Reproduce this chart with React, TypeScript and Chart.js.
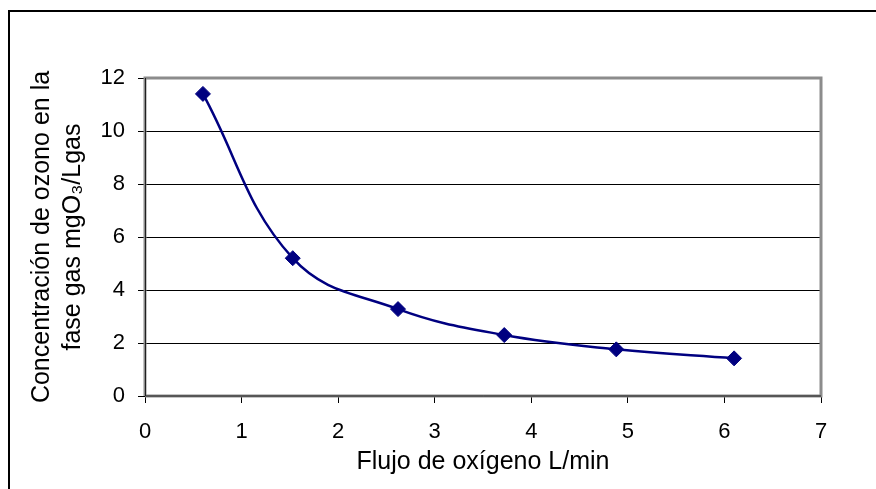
import React, { useEffect, useRef } from "react";
import { Chart, registerables } from "chart.js";

Chart.register(...registerables);

const flowValues = [0.6, 1.53, 2.62, 3.72, 4.88, 6.1];
const ozoneValues = [11.4, 5.2, 3.28, 2.3, 1.76, 1.42];
const xTickValues = [0, 1, 2, 3, 4, 5, 6, 7];
const yTickValues = [0, 2, 4, 6, 8, 10, 12];
const xTitle = "Flujo de oxígeno L/min";
const yTitle = ["Concentración de ozono en la", "fase gas mgO₃/Lgas"];

const FONT = "'Liberation Sans', Arial, sans-serif";

const framePlugin = {
  id: "frame",
  beforeDatasetsDraw(chart: any) {
    const { ctx, chartArea } = chart;
    const { left, right, top, bottom } = chartArea;
    ctx.save();
    ctx.strokeStyle = "#8c8c8c";
    ctx.lineWidth = 3;
    ctx.beginPath();
    ctx.moveTo(left, bottom);
    ctx.lineTo(left, top);
    ctx.lineTo(right, top);
    ctx.lineTo(right, bottom);
    ctx.lineTo(left, bottom);
    ctx.stroke();
    ctx.strokeStyle = "#202020";
    ctx.lineWidth = 1;
    ctx.beginPath();
    ctx.moveTo(Math.round(left) + 0.5, top);
    ctx.lineTo(Math.round(left) + 0.5, bottom);
    ctx.lineTo(right, bottom);
    ctx.stroke();
    ctx.restore();
  },
  afterDraw(chart: any) {
    const { ctx, width, height } = chart;
    ctx.save();
    ctx.strokeStyle = "#000";
    ctx.lineWidth = 2;
    ctx.beginPath();
    ctx.moveTo(9, height + 5);
    ctx.lineTo(9, 11);
    ctx.lineTo(width + 5, 11);
    ctx.stroke();
    ctx.restore();
  },
};

export default function App() {
  const ref = useRef<HTMLCanvasElement | null>(null);
  useEffect(() => {
    if (!ref.current) return;
    const chart = new Chart(ref.current, {
      type: "scatter",
      data: {
        datasets: [
          {
            data: flowValues.map((x, i) => ({ x, y: ozoneValues[i] })),
            showLine: true,
            borderColor: "#000080",
            backgroundColor: "#000080",
            borderWidth: 2.5,
            tension: 0.4,
            pointStyle: "rectRot",
            pointRadius: 7.5,
            pointBorderWidth: 1,
            pointBorderColor: "#000080",
            pointBackgroundColor: "#000080",
          },
        ],
      },
      options: {
        responsive: false,
        animation: false,
        layout: { padding: { left: 0, top: 78, right: 55, bottom: 0 } },
        plugins: { legend: { display: false }, tooltip: { enabled: false } },
        scales: {
          x: {
            type: "linear",
            min: 0,
            max: 7,
            afterBuildTicks: (s: any) => {
              s.ticks = xTickValues.map((v) => ({ value: v }));
            },
            afterFit: (s: any) => {
              s.height = 93;
            },
            grid: {
              drawOnChartArea: false,
              drawTicks: true,
              tickLength: 7,
              color: "#000",
            },
            border: { display: false },
            ticks: {
              color: "#000",
              font: { family: FONT, size: 22 },
              padding: 16,
              maxRotation: 0,
            },
            title: {
              display: true,
              text: xTitle,
              color: "#000",
              font: { family: FONT, size: 25, lineHeight: "31px" },
              padding: { top: 0, bottom: 11.5 },
            },
          },
          y: {
            type: "linear",
            min: 0,
            max: 12,
            afterBuildTicks: (s: any) => {
              s.ticks = yTickValues.map((v) => ({ value: v }));
            },
            afterFit: (s: any) => {
              s.width = 145;
            },
            grid: { color: "#000", lineWidth: 1, tickLength: 7 },
            border: { display: false },
            ticks: {
              color: "#000",
              font: { family: FONT, size: 22 },
              padding: 13,
            },
            title: {
              display: true,
              text: yTitle,
              color: "#000",
              font: { family: FONT, size: 25, lineHeight: "31px" },
              padding: { top: 26.5, bottom: 0 },
            },
          },
        },
      },
      plugins: [framePlugin],
    } as any);
    return () => chart.destroy();
  }, []);
  return (
    <div style={{ position: "fixed", left: 0, top: 0, width: 876, height: 489, background: "#fff" }}>
      <canvas ref={ref} width={876} height={489} style={{ display: "block" }} />
    </div>
  );
}
